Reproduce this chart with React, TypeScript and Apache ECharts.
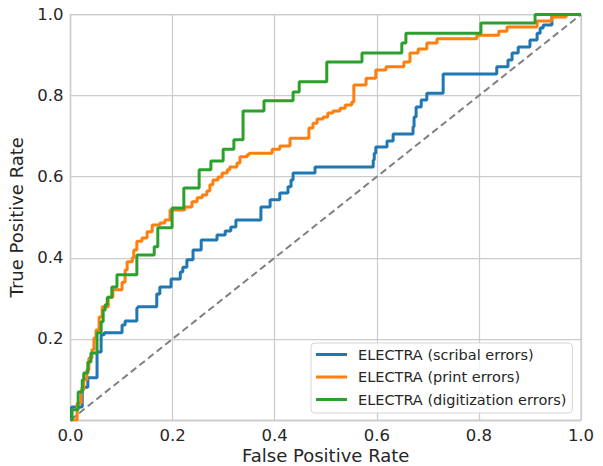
import React, { useEffect, useRef } from "react";
import * as echarts from "echarts";

const seriesNames = [
  "ELECTRA (scribal errors)",
  "ELECTRA (print errors)",
  "ELECTRA (digitization errors)",
];
const colors = ["#1f77b4", "#ff7f0e", "#2ca02c"];

const tickLabels = ["0.0", "0.2", "0.4", "0.6", "0.8", "1.0"];

// scribal errors
const scribalFpr = [0, 0.002, 0.023, 0.034, 0.052, 0.06, 0.066, 0.101, 0.107, 0.13, 0.132, 0.169, 0.175, 0.197, 0.215, 0.22, 0.228, 0.24, 0.256, 0.287, 0.303, 0.314, 0.324, 0.373, 0.391, 0.41, 0.426, 0.432, 0.436, 0.479, 0.593, 0.595, 0.598, 0.62, 0.632, 0.671, 0.673, 0.677, 0.687, 0.698, 0.73, 0.835, 0.857, 0.865, 0.877, 0.9, 0.914, 0.92, 0.926, 0.943, 1.0];
const scribalTpr = [0, 0.032, 0.081, 0.104, 0.168, 0.21, 0.215, 0.234, 0.244, 0.276, 0.279, 0.311, 0.328, 0.348, 0.365, 0.377, 0.395, 0.419, 0.444, 0.456, 0.466, 0.476, 0.493, 0.525, 0.543, 0.56, 0.575, 0.592, 0.609, 0.624, 0.641, 0.658, 0.673, 0.688, 0.705, 0.723, 0.747, 0.772, 0.789, 0.806, 0.853, 0.871, 0.888, 0.905, 0.92, 0.937, 0.954, 0.967, 0.974, 1.0, 1.0];

// print errors
const printFpr = [0, 0.013, 0.021, 0.026, 0.032, 0.036, 0.042, 0.046, 0.05, 0.056, 0.062, 0.074, 0.083, 0.101, 0.107, 0.111, 0.121, 0.124, 0.13, 0.14, 0.15, 0.16, 0.175, 0.185, 0.195, 0.224, 0.238, 0.248, 0.258, 0.267, 0.273, 0.279, 0.289, 0.297, 0.307, 0.312, 0.326, 0.332, 0.346, 0.35, 0.395, 0.41, 0.43, 0.467, 0.475, 0.483, 0.495, 0.504, 0.514, 0.528, 0.538, 0.551, 0.555, 0.579, 0.598, 0.618, 0.653, 0.665, 0.681, 0.698, 0.718, 0.796, 0.839, 0.855, 0.914, 0.943, 0.971, 1.0];
const printTpr = [0, 0.042, 0.074, 0.099, 0.123, 0.153, 0.173, 0.202, 0.222, 0.254, 0.279, 0.303, 0.321, 0.34, 0.37, 0.39, 0.4, 0.419, 0.441, 0.449, 0.464, 0.481, 0.486, 0.493, 0.518, 0.525, 0.538, 0.548, 0.555, 0.565, 0.58, 0.592, 0.599, 0.609, 0.617, 0.624, 0.634, 0.649, 0.654, 0.658, 0.668, 0.676, 0.695, 0.72, 0.732, 0.742, 0.747, 0.757, 0.762, 0.769, 0.777, 0.784, 0.826, 0.843, 0.863, 0.871, 0.883, 0.905, 0.915, 0.93, 0.94, 0.949, 0.959, 0.969, 0.984, 0.994, 1.0, 1.0];

// digitization errors
const digitFpr = [0, 0.003, 0.015, 0.023, 0.026, 0.034, 0.04, 0.052, 0.06, 0.064, 0.068, 0.072, 0.081, 0.091, 0.13, 0.164, 0.171, 0.199, 0.222, 0.252, 0.275, 0.299, 0.32, 0.338, 0.379, 0.436, 0.448, 0.502, 0.571, 0.649, 0.657, 0.804, 0.91, 1.0];
const digitTpr = [0, 0.025, 0.069, 0.099, 0.116, 0.143, 0.165, 0.215, 0.242, 0.271, 0.284, 0.303, 0.328, 0.358, 0.407, 0.427, 0.474, 0.523, 0.572, 0.617, 0.639, 0.668, 0.691, 0.762, 0.787, 0.809, 0.834, 0.883, 0.905, 0.93, 0.954, 0.979, 1.0, 1.0];

const chanceLine = [
  [0, 0],
  [1, 1],
];

function stepPoints(fpr: number[], tpr: number[]): number[][] {
  const pts: number[][] = [[fpr[0], tpr[0]]];
  for (let i = 1; i < fpr.length; i++) {
    pts.push([fpr[i], tpr[i - 1]]);
    pts.push([fpr[i], tpr[i]]);
  }
  return pts;
}

export default function App() {
  const ref = useRef<HTMLDivElement>(null);
  useEffect(() => {
    if (!ref.current) return;
    const chart = echarts.init(ref.current, null, { renderer: "svg" });
    const font = "DejaVu Sans";
    const textColor = "#262626";
    const gridColor = "#cccccc";
    const curves = [
      stepPoints(scribalFpr, scribalTpr),
      stepPoints(printFpr, printTpr),
      stepPoints(digitFpr, digitTpr),
    ];
    chart.setOption({
      animation: false,
      backgroundColor: "#ffffff",
      textStyle: { fontFamily: font },
      grid: {
        left: 70.5,
        right: 22,
        top: 14.5,
        bottom: 46,
        containLabel: false,
        outerBoundsMode: "none",
        show: true,
        borderColor: gridColor,
        borderWidth: 1.25,
      },
      xAxis: {
        type: "value",
        min: 0,
        max: 1,
        interval: 0.2,
        name: "False Positive Rate",
        nameLocation: "middle",
        nameGap: 25,
        nameMoveOverlap: false,
        nameTextStyle: { fontSize: 18, lineHeight: 20, color: textColor, fontFamily: font },
        axisLine: { show: true, lineStyle: { color: gridColor, width: 1.25 } },
        axisTick: { show: false },
        axisLabel: {
          fontSize: 16.5,
          color: textColor,
          margin: 7,
          fontFamily: font,
          formatter: (v: number) => tickLabels[Math.round(v * 5)],
        },
        splitLine: { show: true, lineStyle: { color: gridColor, width: 1.25 } },
      },
      yAxis: {
        type: "value",
        min: 0,
        max: 1,
        interval: 0.2,
        name: "True Positive Rate",
        nameLocation: "middle",
        nameGap: 45,
        nameMoveOverlap: false,
        nameTextStyle: { fontSize: 18, color: textColor, fontFamily: font },
        axisLine: { show: true, lineStyle: { color: gridColor, width: 1.25 } },
        axisTick: { show: false },
        axisLabel: {
          fontSize: 16.5,
          color: textColor,
          margin: 7,
          fontFamily: font,
          showMinLabel: false,
          formatter: (v: number) => (v === 0 ? "" : tickLabels[Math.round(v * 5)]),
        },
        splitLine: { show: true, lineStyle: { color: gridColor, width: 1.25 } },
      },
      legend: {
        orient: "vertical",
        left: 311,
        top: 343,
        data: seriesNames,
        icon: "rect",
        itemWidth: 31,
        itemHeight: 3,
        itemGap: 5.5,
        padding: [3, 6, 5, 5],
        backgroundColor: "rgba(255,255,255,0.8)",
        borderColor: "#d6d6d6",
        borderWidth: 1,
        borderRadius: 4,
        textStyle: {
          fontSize: 14.5,
          color: textColor,
          fontFamily: font,
          lineHeight: 17,
          padding: [0, 0, 0, 6],
        },
      },
      series: [
        {
          name: "chance",
          type: "line",
          data: chanceLine,
          symbol: "none",
          silent: true,
          lineStyle: { color: "#808080", width: 2, type: [7, 4] },
          z: 1,
        },
        ...curves.map((pts, i) => ({
          name: seriesNames[i],
          type: "line",
          data: pts,
          symbol: "none",
          color: colors[i],
          lineStyle: { color: colors[i], width: 3 },
          z: 2 + i,
        })),
      ],
    });
    return () => chart.dispose();
  }, []);
  return (
    <div
      ref={ref}
      style={{ position: "fixed", left: 0, top: 0, width: 603, height: 466 }}
    />
  );
}
